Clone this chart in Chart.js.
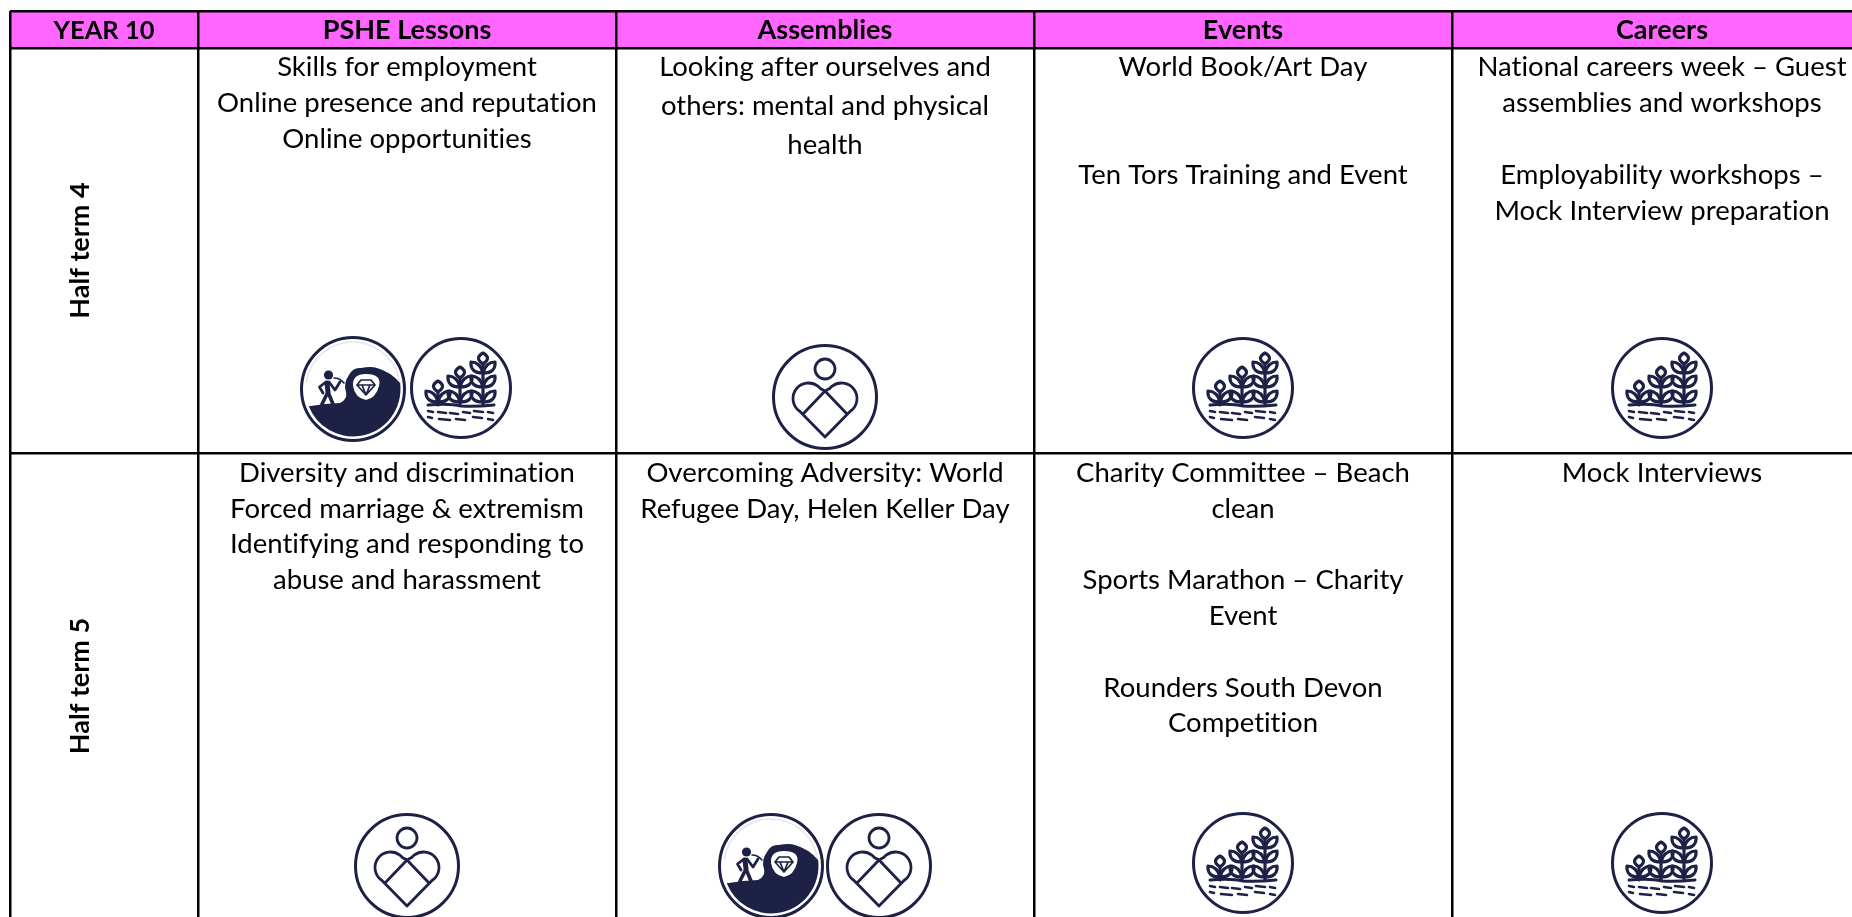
<!DOCTYPE html>
<html>
<head>
<meta charset="utf-8">
<title>Year 10</title>
<style>
  html, body { margin: 0; padding: 0; background: #ffffff; overflow: hidden; }
  canvas { display: block; }
</style>
<script src="https://cdn.jsdelivr.net/npm/chart.js@4/dist/chart.umd.js"></script>
</head>
<body>
<canvas id="planner" width="1852" height="917"></canvas>
<script>
// TABLE CONTENT
const cornerLabel = 'YEAR 10';
const columnHeaders = ['PSHE Lessons', 'Assemblies', 'Events', 'Careers'];
const rowLabels = ['Half term 4', 'Half term 5'];

// one list per cell, '' is an empty line
const term4Cells = [
  ['Skills for employment', 'Online presence and reputation', 'Online opportunities'],
  ['Looking after ourselves and', 'others: mental and physical', 'health'],
  ['World Book/Art Day', '', '', 'Ten Tors Training and Event'],
  ['National careers week \u2013 Guest', 'assemblies and workshops', '', 'Employability workshops \u2013', 'Mock Interview preparation']
];
const term5Cells = [
  ['Diversity and discrimination', 'Forced marriage & extremism', 'Identifying and responding to', 'abuse and harassment'],
  ['Overcoming Adversity: World', 'Refugee Day, Helen Keller Day'],
  ['Charity Committee \u2013 Beach', 'clean', '', 'Sports Marathon \u2013 Charity', 'Event', '', 'Rounders South Devon', 'Competition'],
  ['Mock Interviews']
];

// badges shown in each cell
const term4Badges = [['gem', 'crops'], ['heart'], ['crops'], ['crops']];
const term5Badges = [['heart'], ['gem', 'heart'], ['crops'], ['crops']];

// axis values of the rules, the axes run in image pixels
const columnEdges = [10, 198, 616, 1034, 1452];
const rowEdges = [11, 48, 453];
const tableEnd = 1872;
const rowEnd = 919;

const ink = '#000000';
const navy = '#1d2146';
const headerPink = '#ff66ff';
const bodyFont = '27.5px Lato';
const boldFont = 'bold 27px Lato';
const cornerFont = 'bold 25.5px Lato';
const lineGap = 35.8;
const assemblyGap = 39;
const firstLine = [67.5, 473];
const badgeY = { 0: { gem: 389, crops: 388, heart: 397 }, 1: { gem: 866, crops: 863, heart: 866 } };
const badgeSpread = 108;

function columnMiddle(i) {
  const right = i + 2 < columnEdges.length ? columnEdges[i + 2] : tableEnd;
  return (columnEdges[i + 1] + right) / 2;
}

// BADGES
function newBadge(radius) {
  const c = document.createElement('canvas');
  c.width = 112;
  c.height = 112;
  const g = c.getContext('2d');
  g.translate(56, 56);
  g.filter = 'blur(0.55px)';
  g.strokeStyle = navy;
  g.fillStyle = navy;
  g.lineCap = 'round';
  g.lineJoin = 'round';
  g.lineWidth = 3;
  g.beginPath();
  g.arc(0, 0, radius, 0, Math.PI * 2);
  g.stroke();
  return { c, g };
}

function drawHeartBadge() {
  const { c, g } = newBadge(51.5);
  g.lineWidth = 2.8;
  g.beginPath();
  g.arc(0, -28, 10, 0, Math.PI * 2);
  g.stroke();
  g.beginPath();
  g.moveTo(0, 40);
  g.lineTo(-26, 13.5);
  g.arc(-16.5, 1.5, 15.5, 2.22, 5.58);
  g.lineTo(0, -6);
  g.lineTo(22, 17);
  g.moveTo(0, 40);
  g.lineTo(26, 13.5);
  g.arc(16.5, 1.5, 15.5, Math.PI - 2.22, Math.PI - 5.58, true);
  g.lineTo(0, -6);
  g.lineTo(-22, 17);
  g.stroke();
  return c;
}

function drawLeaf(g, x, y, dir) {
  g.beginPath();
  g.moveTo(x, y + 6);
  g.quadraticCurveTo(x + dir * 13, y + 6, x + dir * 12, y - 5);
  g.quadraticCurveTo(x + dir * 3, y - 5, x, y + 6);
  g.stroke();
}

function drawPlant(g, x, tip, leafRows) {
  g.lineWidth = 3.2;
  g.beginPath();
  g.moveTo(x, 17);
  g.lineTo(x, tip + 10);
  g.stroke();
  g.beginPath();
  g.moveTo(x, tip + 11);
  g.quadraticCurveTo(x - 9, tip + 5, x, tip);
  g.quadraticCurveTo(x + 9, tip + 5, x, tip + 11);
  g.stroke();
  leafRows.forEach(y => {
    drawLeaf(g, x, y, -1);
    drawLeaf(g, x, y, 1);
  });
}

function drawCropsBadge() {
  const { c, g } = newBadge(49.5);
  drawPlant(g, -23, -7, [8]);
  drawPlant(g, -1, -21, [-7, 8]);
  drawPlant(g, 22, -35, [-21, -7, 8]);
  g.lineWidth = 3;
  g.beginPath();
  g.moveTo(-33, 17);
  g.quadraticCurveTo(-12, 15, 0, 18);
  g.quadraticCurveTo(14, 19, 33, 17);
  g.stroke();
  g.lineWidth = 2.6;
  [[-33, -28, 23], [-23, -15, 24], [-11, -3, 25], [2, 9, 24], [13, 22, 23], [27, 32, 24],
   [-33, -29, 29], [-22, -11, 31], [-5, 4, 31], [12, 21, 29], [27, 32, 31]].forEach(d => {
    g.beginPath();
    g.moveTo(d[0], d[2]);
    g.lineTo(d[1], d[2] + 1);
    g.stroke();
  });
  return c;
}

function drawGemBadge() {
  const { c, g } = newBadge(51.5);
  g.strokeStyle = '#e6e6e6';
  g.lineWidth = 1.5;
  g.beginPath();
  g.arc(0, 0, 47, -3.0, -0.1);
  g.stroke();
  g.strokeStyle = navy;
  // hillside
  g.beginPath();
  g.moveTo(47, -6);
  g.arc(0, 0, 47.5, -0.13, 2.77);
  g.lineTo(-28, 15);
  g.lineTo(-13, 14);
  g.quadraticCurveTo(-5, 10, -7, 3);
  g.quadraticCurveTo(-10, -6, -4, -14);
  g.quadraticCurveTo(0, -22, 8, -21);
  g.quadraticCurveTo(18, -23, 24, -21);
  g.quadraticCurveTo(38, -17, 47, -6);
  g.fill();
  // white patch
  g.fillStyle = '#ffffff';
  g.beginPath();
  g.moveTo(13, -15);
  g.quadraticCurveTo(29, -15, 26, -3);
  g.quadraticCurveTo(23, 9, 13, 11);
  g.quadraticCurveTo(2, 9, 0, -3);
  g.quadraticCurveTo(-1, -15, 13, -15);
  g.fill();
  g.fillStyle = navy;
  // gem
  g.lineWidth = 1.7;
  g.beginPath();
  g.moveTo(8, -9);
  g.lineTo(18, -9);
  g.lineTo(22, -4);
  g.lineTo(13, 6);
  g.lineTo(4, -4);
  g.closePath();
  g.moveTo(4, -4);
  g.lineTo(22, -4);
  g.moveTo(9, -4);
  g.lineTo(13, 6);
  g.lineTo(17, -4);
  g.stroke();
  // miner
  g.beginPath();
  g.arc(-24.5, -14, 4.6, 0, Math.PI * 2);
  g.fill();
  g.lineWidth = 5;
  g.beginPath();
  g.moveTo(-26, -6);
  g.lineTo(-25, 3);
  g.stroke();
  g.lineWidth = 3.6;
  g.beginPath();
  g.moveTo(-25, 3);
  g.lineTo(-31, 15);
  g.moveTo(-25, 3);
  g.lineTo(-20, 15);
  g.stroke();
  g.lineWidth = 2.8;
  g.beginPath();
  g.moveTo(-27, -7);
  g.lineTo(-33.5, -2);
  g.lineTo(-30, 4);
  g.moveTo(-24, -7);
  g.lineTo(-18, 1);
  g.lineTo(-13, -7);
  g.stroke();
  g.lineWidth = 1.6;
  g.beginPath();
  g.moveTo(-19, -11);
  g.quadraticCurveTo(-13, -11, -9, -6);
  g.stroke();
  return c;
}

const badgeImages = { gem: drawGemBadge(), crops: drawCropsBadge(), heart: drawHeartBadge() };

function badgePoints(kind) {
  const points = [];
  [term4Badges, term5Badges].forEach((row, r) => {
    row.forEach((cell, i) => {
      cell.forEach((name, n) => {
        if (name === kind) {
          points.push({
            x: columnMiddle(i) + (n - (cell.length - 1) / 2) * badgeSpread,
            y: badgeY[r][kind]
          });
        }
      });
    });
  });
  return points;
}

function badgeDataset(kind) {
  return {
    label: kind,
    data: badgePoints(kind),
    pointStyle: badgeImages[kind],
    pointRadius: 56,
    pointHoverRadius: 56,
    clip: false
  };
}

// HEADER BAND AND TEXT
const tablePlugin = {
  id: 'tablePlugin',
  beforeDraw(chart) {
    const { x, y } = chart.scales;
    const ctx = chart.ctx;
    ctx.save();
    ctx.fillStyle = '#ffffff';
    ctx.fillRect(0, 0, chart.width, chart.height);
    ctx.fillStyle = headerPink;
    ctx.fillRect(x.getPixelForValue(columnEdges[0]), y.getPixelForValue(rowEdges[0]),
      chart.width, y.getPixelForValue(rowEdges[1]) - y.getPixelForValue(rowEdges[0]));
    ctx.restore();
  },
  afterDatasetsDraw(chart) {
    const { x, y } = chart.scales;
    const ctx = chart.ctx;
    ctx.save();
    ctx.fillStyle = ink;
    ctx.textAlign = 'center';
    ctx.textBaseline = 'middle';
    ctx.letterSpacing = '0.01px'; // stops the ti ligature

    const headerY = y.getPixelForValue((rowEdges[0] + rowEdges[1]) / 2 + 1);
    ctx.font = cornerFont;
    ctx.fillText(cornerLabel, x.getPixelForValue((columnEdges[0] + columnEdges[1]) / 2), headerY);
    ctx.font = boldFont;
    columnHeaders.forEach((name, i) => {
      ctx.fillText(name, x.getPixelForValue(columnMiddle(i)), headerY);
    });

    const rowMiddles = [(rowEdges[1] + rowEdges[2]) / 2, (rowEdges[2] + rowEnd) / 2];
    rowLabels.forEach((name, r) => {
      ctx.save();
      ctx.translate(x.getPixelForValue(80), y.getPixelForValue(rowMiddles[r]));
      ctx.rotate(-Math.PI / 2);
      ctx.fillText(name, 0, 0);
      ctx.restore();
    });

    ctx.font = bodyFont;
    [term4Cells, term5Cells].forEach((row, r) => {
      row.forEach((lines, i) => {
        const gap = r === 0 && i === 1 ? assemblyGap : lineGap;
        lines.forEach((line, n) => {
          ctx.fillText(line, x.getPixelForValue(columnMiddle(i)), y.getPixelForValue(firstLine[r] + n * gap));
        });
      });
    });
    ctx.restore();
  }
};

const ctx = document.getElementById('planner').getContext('2d');
const planner = new Chart(ctx, {
  type: 'scatter',
  data: {
    datasets: [badgeDataset('gem'), badgeDataset('crops'), badgeDataset('heart')]
  },
  options: {
    responsive: false,
    animation: false,
    events: [],
    layout: { autoPadding: false, padding: { left: 10, top: 11, right: 0, bottom: 0 } },
    plugins: {
      legend: { display: false },
      tooltip: { enabled: false }
    },
    scales: {
      x: {
        type: 'linear',
        min: 10,
        max: 1852,
        afterBuildTicks: axis => { axis.ticks = columnEdges.map(v => ({ value: v })); },
        ticks: { display: false },
        border: { display: false },
        grid: { color: ink, lineWidth: 2.5, drawTicks: false }
      },
      y: {
        type: 'linear',
        reverse: true,
        min: 11,
        max: 917,
        afterBuildTicks: axis => { axis.ticks = rowEdges.map(v => ({ value: v })); },
        ticks: { display: false },
        border: { display: false },
        grid: { color: ink, lineWidth: 2.5, drawTicks: false }
      }
    }
  },
  plugins: [tablePlugin]
});
</script>
</body>
</html>
